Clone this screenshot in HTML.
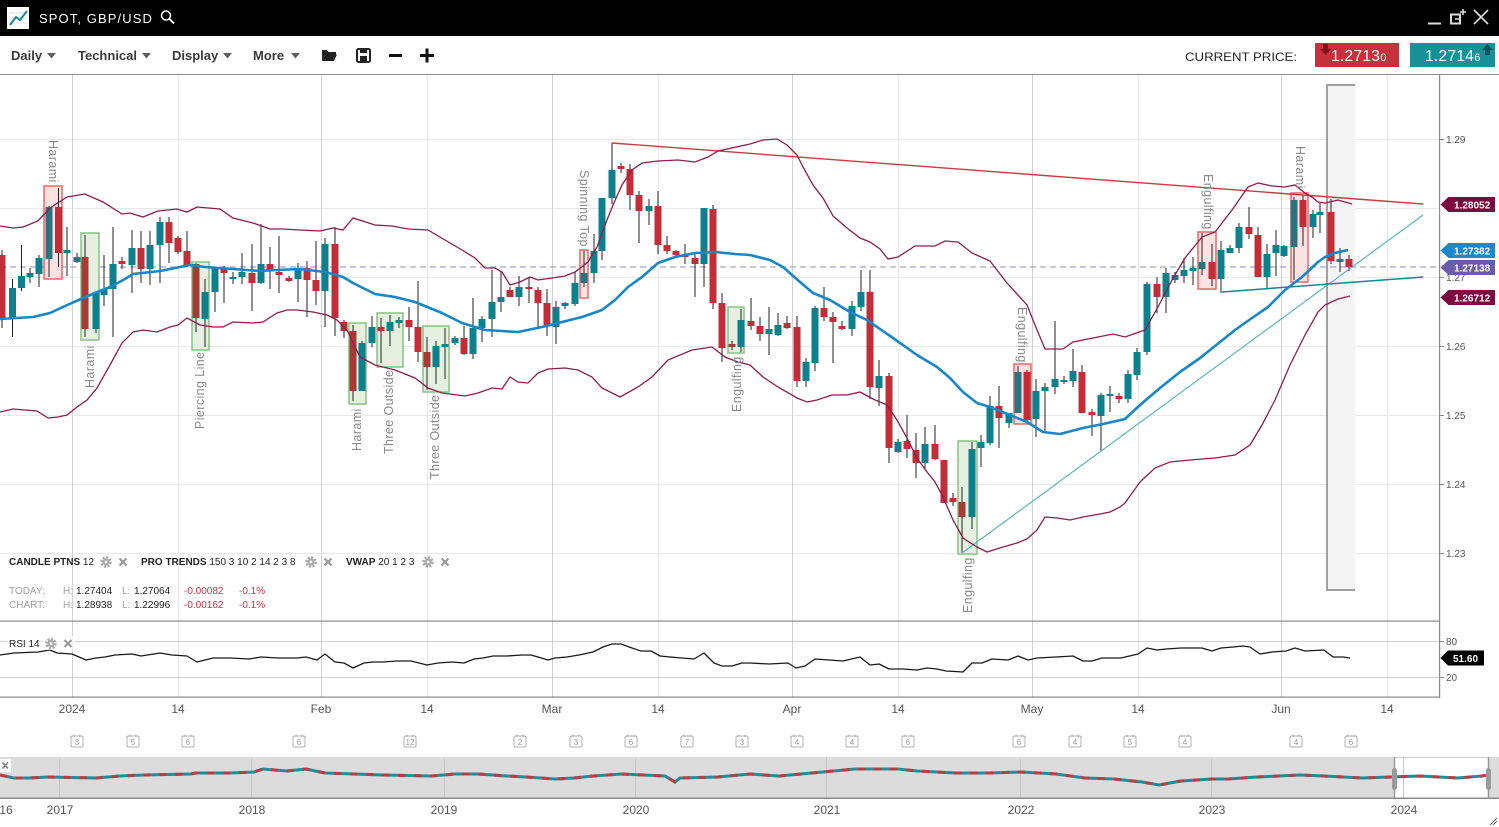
<!DOCTYPE html>
<html><head><meta charset="utf-8"><style>
html,body{margin:0;padding:0;background:#fff;}
svg{display:block;font-family:"Liberation Sans",sans-serif;}
</style></head><body>
<svg width="1499" height="827" viewBox="0 0 1499 827" xmlns="http://www.w3.org/2000/svg">
<defs>
<g id="gear"><circle r="4.6" fill="none" stroke="#a9a9a9" stroke-width="2.4" stroke-dasharray="2.1 1.5"/><circle r="3.6" fill="#a9a9a9"/><circle r="1.4" fill="#fff"/></g>
<g id="xx"><path d="M-3.5 -3.5L3.5 3.5M3.5 -3.5L-3.5 3.5" stroke="#9a9a9a" stroke-width="2.2"/></g>
<g id="cal"><rect x="-6" y="-5" width="12" height="11" rx="1.5" fill="#fff" stroke="#b0b0b0" stroke-width="1"/><path d="M-3 -6.5V-4M3 -6.5V-4" stroke="#b0b0b0" stroke-width="1"/></g>
<clipPath id="mc"><rect x="0" y="75" width="1439" height="546"/></clipPath>
<clipPath id="rc"><rect x="0" y="621" width="1439" height="76"/></clipPath>
</defs>
<rect width="1499" height="827" fill="#fff"/>
<!-- top bar -->
<rect x="0" y="0" width="1499" height="36" fill="#000"/>
<rect x="7" y="7" width="22" height="22" fill="#fff"/>
<path d="M9 13H27M9 18H27M9 23H27" stroke="#ddd" stroke-width="1"/>
<polyline points="10,25 16,17 20,20 27,11" fill="none" stroke="#1a8a96" stroke-width="2"/>
<text x="39" y="23" fill="#fff" font-size="13" letter-spacing="1.1">SPOT, GBP/USD</text>
<circle cx="166" cy="15.5" r="4.5" fill="none" stroke="#fff" stroke-width="1.5"/>
<path d="M169.3 18.8L174 23.5" stroke="#fff" stroke-width="1.8"/>
<path d="M1428 23.5H1441" stroke="#ddd" stroke-width="2"/>
<rect x="1451" y="14.5" width="9" height="9" fill="none" stroke="#ddd" stroke-width="2"/>
<path d="M1455 19H1460M1463 9V15M1460 12H1466" stroke="#ddd" stroke-width="1.6"/>
<path d="M1474 10L1488 24M1488 10L1474 24" stroke="#ddd" stroke-width="1.6"/>
<!-- toolbar -->
<g font-size="13" font-weight="bold" fill="#3a3a3a">
<text x="11" y="60">Daily</text>
<text x="78" y="60">Technical</text>
<text x="172" y="60">Display</text>
<text x="253" y="60">More</text>
</g>
<g fill="#606060">
<polygon points="47,53 56,53 51.5,58.5"/>
<polygon points="142,53 151,53 146.5,58.5"/>
<polygon points="223,53 232,53 227.5,58.5"/>
<polygon points="291,53 300,53 295.5,58.5"/>
</g>
<path d="M322 50h5l1.5 2H336v2.5h-11l-3 6.5z" fill="#222"/>
<path d="M322 61l3-6.5h12l-3 6.5z" fill="#222"/>
<rect x="357" y="49" width="13" height="13" rx="1.5" fill="none" stroke="#222" stroke-width="2"/>
<rect x="360" y="49" width="7" height="4" fill="#222"/>
<rect x="360" y="56" width="7" height="6" fill="#222"/>
<rect x="389" y="54" width="13" height="3" fill="#111"/>
<rect x="420" y="54" width="14" height="3" fill="#111"/>
<rect x="425.5" y="48.5" width="3" height="14" fill="#111"/>
<text x="1185" y="61" font-size="12" fill="#222" textLength="112" lengthAdjust="spacingAndGlyphs">CURRENT PRICE:</text>
<rect x="1315" y="43" width="84" height="24" fill="#c8313b"/>
<polygon points="1323,44 1328,44 1328,49 1331,49 1325.5,55 1320,49 1323,49" fill="#7a1418"/>
<text x="1331" y="61" font-size="15.5" fill="#fff" letter-spacing="0.3">1.2713<tspan font-size="11">0</tspan></text>
<rect x="1410" y="43" width="85" height="24" fill="#17909a"/>
<polygon points="1487.5,44 1493,50 1490,50 1490,55 1485,55 1485,50 1482,50" fill="#0a4f5a"/>
<text x="1425" y="61" font-size="15.5" fill="#fff" letter-spacing="0.3">1.2714<tspan font-size="11">6</tspan></text>
<rect x="0" y="74" width="1499" height="1" fill="#8c8c8c"/>

<!-- grid -->
<g stroke="#e8e8e8" stroke-width="1">
<path d="M0 139.5H1439M0 208.5H1439M0 277.5H1439M0 346.5H1439M0 415.5H1439M0 484.5H1439M0 553.5H1439"/>
<path d="M178.5 75V697M427.5 75V697M658.5 75V697M898.5 75V697M1138.5 75V697M1387.5 75V697"/>
</g>
<g stroke="#d2d2d2" stroke-width="1">
<path d="M72.5 75V697M321.5 75V697M552.5 75V697M792.5 75V697M1032.5 75V697M1281.5 75V697"/>
</g>

<g clip-path="url(#mc)">
<!-- selection band -->
<rect x="1327" y="85" width="28" height="505" fill="#f4f4f4"/>
<path d="M1355 85H1327V590H1355" fill="none" stroke="#a0a0a0" stroke-width="2"/>
<!-- dashed current price -->
<path d="M0 267H1439" stroke="#b2b2d6" stroke-width="1.5" stroke-dasharray="6 4"/>
<!-- pattern boxes -->
<g fill="#fde2e2" stroke="#f26464" stroke-width="1.5">
<rect x="44" y="186" width="18" height="93"/>
<rect x="580" y="250" width="8" height="48"/>
<rect x="1014" y="364" width="17" height="60"/>
<rect x="1198" y="232" width="18" height="57"/>
<rect x="1291" y="193" width="17" height="89"/>
</g>
<g fill="#e6f0e1" stroke="#86c283" stroke-width="1.5">
<rect x="81" y="233" width="18" height="107"/>
<rect x="192" y="262" width="17" height="88"/>
<rect x="349" y="323" width="17" height="81"/>
<rect x="377" y="313" width="26" height="54"/>
<rect x="423" y="326" width="26" height="66"/>
<rect x="728" y="307" width="16" height="46"/>
<rect x="958" y="441" width="19" height="113"/>
</g>
<!-- wicks -->
<path stroke="#222" stroke-width="1" fill="none" d="M2 250V328M12.5 279V337M21.5 245V291M30 268V283M39 255V287M49 206V277M58.5 188V267M67 227V276M77 253V263M85 235V337M96 292V333M104 255V306M113 227V337M122 257V269M132 230V293M141 231V283M150 231V285M160 217V283M169 217V263M178 236V254M187 231V267M196 263V332M205 279V347M215 267V312M224 266V303M233 272V284M242 253V284M252 244V311M261 224V284M270 247V289M279 236V293M289 276V282M298 263V302M307 261V317M316 241V305M325 238V327M335 227V336M344 320V338M353 325V401M362 341V391M372 316V347M381 318V363M390 315V346M399 317V328M409 307V341M418 281V362M427 337V390M436 341V384M445 328V379M455 336V345M464 326V355M473 298V359M482 316V342M492 270V337M501 272V312M510 287V297M519 276V306M529 278V303M538 287V327M547 289V336M556 301V344M565 302V309M575 272V306M584 251V287M594 234V283M602 198V260M612 143V204M621 163V173M630 164V210M639 191V243M649 199V225M658 191V254M667 236V254M676 250V256M685 244V264M695 253V297M704 208V287M713 205V309M722 293V362M732 341V350M741 309V352M751 298V330M760 317V341M769 307V355M778 313V336M787 316V329M797 316V387M806 358V387M815 306V371M824 287V321M833 312V363M842 321V330M852 301V336M861 270V311M870 270V399M879 360V406M889 373V463M898 439V453M907 415V458M916 433V478M925 427V470M935 425V460M944 460V503M953 493V506M962 487V553M972 442V529M981 435V467M990 396V445M999 386V448M1009 413V428M1018 366V413M1027 370V422M1036 379V437M1045 383V433M1055 321V394M1064 376V384M1073 349V387M1082 365V413M1092 409V436M1101 393V451M1110 386V412M1119 393V403M1128 370V403M1137 348V380M1147 282V355M1157 277V313M1166 268V313M1175 272V283M1184 258V283M1193 257V285M1202 233V275M1212 244V286M1221 241V293M1230 245V253M1239 223V253M1249 207V239M1258 227V277M1267 244V288M1276 230V276M1284 245V257M1294 197V280M1303 195V246M1313 210V238M1320 203V233M1331 199V264M1340 248V272M1349 255V271"/>
<!-- teal bodies -->
<g fill="#0c808c">
<rect x="9" y="288" width="7" height="30"/><rect x="18" y="276" width="7" height="12"/><rect x="26.5" y="273" width="7" height="4"/><rect x="35.5" y="258" width="7" height="16"/><rect x="63.5" y="250" width="7" height="3"/><rect x="73.5" y="257" width="7" height="5"/><rect x="92.5" y="293" width="7" height="36"/><rect x="100.5" y="289" width="7" height="6"/><rect x="109.5" y="264" width="7" height="25"/><rect x="128.5" y="248" width="7" height="17"/><rect x="146.5" y="245" width="7" height="24"/><rect x="156.5" y="222" width="7" height="23"/><rect x="201.5" y="292" width="7" height="27"/><rect x="211.5" y="267" width="7" height="25"/><rect x="229.5" y="277" width="7" height="2"/><rect x="238.5" y="272" width="7" height="5"/><rect x="257.5" y="264" width="7" height="19"/><rect x="294.5" y="268" width="7" height="11"/><rect x="321.5" y="244" width="7" height="47"/><rect x="358.5" y="343" width="7" height="48"/><rect x="368.5" y="327" width="7" height="16"/><rect x="386.5" y="322" width="7" height="9"/><rect x="395.5" y="320" width="7" height="3"/><rect x="432.5" y="346" width="7" height="21"/><rect x="441.5" y="344" width="7" height="3"/><rect x="451.5" y="338" width="7" height="5"/><rect x="469.5" y="328" width="7" height="26"/><rect x="478.5" y="319" width="7" height="9"/><rect x="488.5" y="302" width="7" height="17"/><rect x="497.5" y="297" width="7" height="5"/><rect x="515.5" y="287" width="7" height="10"/><rect x="552.5" y="307" width="7" height="20"/><rect x="561.5" y="303" width="7" height="3"/><rect x="571.5" y="283" width="7" height="21"/><rect x="590.5" y="251" width="7" height="22"/><rect x="598.5" y="198" width="7" height="53"/><rect x="608.5" y="170" width="7" height="28"/><rect x="645.5" y="206" width="7" height="5"/><rect x="700.5" y="208" width="7" height="56"/><rect x="737.5" y="320" width="7" height="27"/><rect x="765.5" y="329" width="7" height="5"/><rect x="774.5" y="325" width="7" height="10"/><rect x="802.5" y="362" width="7" height="19"/><rect x="811.5" y="308" width="7" height="55"/><rect x="848.5" y="306" width="7" height="23"/><rect x="857.5" y="292" width="7" height="15"/><rect x="875.5" y="376" width="7" height="12"/><rect x="894.5" y="442" width="7" height="10"/><rect x="921.5" y="444" width="7" height="19"/><rect x="968.5" y="449" width="7" height="68"/><rect x="977.5" y="442" width="7" height="6"/><rect x="986.5" y="406" width="7" height="37"/><rect x="1005.5" y="413" width="7" height="10"/><rect x="1032.5" y="391" width="7" height="28"/><rect x="1041.5" y="387" width="7" height="4"/><rect x="1051.5" y="379" width="7" height="8"/><rect x="1060.5" y="380" width="7" height="2"/><rect x="1069.5" y="371" width="7" height="10"/><rect x="1097.5" y="395" width="7" height="21"/><rect x="1106.5" y="394" width="7" height="2"/><rect x="1124.5" y="374" width="7" height="25"/><rect x="1133.5" y="352" width="7" height="23"/><rect x="1143.5" y="284" width="7" height="68"/><rect x="1162.5" y="273" width="7" height="24"/><rect x="1171.5" y="275" width="7" height="5"/><rect x="1180.5" y="270" width="7" height="6"/><rect x="1189.5" y="268" width="7" height="3"/><rect x="1217.5" y="250" width="7" height="29"/><rect x="1226.5" y="248" width="7" height="5"/><rect x="1235.5" y="227" width="7" height="21"/><rect x="1263.5" y="254" width="7" height="23"/><rect x="1272.5" y="245" width="7" height="8"/><rect x="1280.5" y="246" width="7" height="10"/><rect x="1309.5" y="214" width="7" height="13"/><rect x="1316.5" y="212" width="7" height="3"/><rect x="1336.5" y="259" width="7" height="3"/>
</g>
<g fill="#2a7480">
<rect x="45.5" y="207" width="7" height="52"/><rect x="580.5" y="273" width="7" height="10"/><rect x="1014.5" y="372" width="7" height="41"/><rect x="1198.5" y="262" width="7" height="7"/><rect x="1290.5" y="200" width="7" height="47"/>
</g>
<!-- red bodies -->
<g fill="#c22d38">
<rect x="-1.5" y="255" width="7" height="63"/><rect x="55" y="207" width="7" height="46"/><rect x="118.5" y="261" width="7" height="3"/><rect x="137.5" y="248" width="7" height="21"/><rect x="165.5" y="222" width="7" height="21"/><rect x="174.5" y="238" width="7" height="14"/><rect x="183.5" y="251" width="7" height="14"/><rect x="220.5" y="269" width="7" height="4"/><rect x="248.5" y="273" width="7" height="10"/><rect x="266.5" y="264" width="7" height="7"/><rect x="275.5" y="272" width="7" height="3"/><rect x="285.5" y="278" width="7" height="3"/><rect x="303.5" y="268" width="7" height="12"/><rect x="312.5" y="280" width="7" height="11"/><rect x="331.5" y="244" width="7" height="74"/><rect x="340.5" y="322" width="7" height="9"/><rect x="377.5" y="327" width="7" height="4"/><rect x="405.5" y="320" width="7" height="7"/><rect x="414.5" y="327" width="7" height="25"/><rect x="460.5" y="338" width="7" height="16"/><rect x="506.5" y="290" width="7" height="7"/><rect x="525.5" y="287" width="7" height="2"/><rect x="534.5" y="290" width="7" height="13"/><rect x="543.5" y="303" width="7" height="23"/><rect x="617.5" y="166" width="7" height="3"/><rect x="626.5" y="169" width="7" height="26"/><rect x="635.5" y="195" width="7" height="16"/><rect x="654.5" y="206" width="7" height="39"/><rect x="663.5" y="245" width="7" height="6"/><rect x="672.5" y="251" width="7" height="4"/><rect x="681.5" y="255" width="7" height="2"/><rect x="691.5" y="258" width="7" height="6"/><rect x="709.5" y="209" width="7" height="94"/><rect x="718.5" y="303" width="7" height="45"/><rect x="747.5" y="321" width="7" height="5"/><rect x="756.5" y="326" width="7" height="8"/><rect x="783.5" y="323" width="7" height="5"/><rect x="793.5" y="327" width="7" height="54"/><rect x="820.5" y="308" width="7" height="9"/><rect x="829.5" y="317" width="7" height="5"/><rect x="838.5" y="326" width="7" height="3"/><rect x="866.5" y="292" width="7" height="95"/><rect x="885.5" y="376" width="7" height="72"/><rect x="903.5" y="441" width="7" height="8"/><rect x="912.5" y="450" width="7" height="13"/><rect x="931.5" y="444" width="7" height="15"/><rect x="940.5" y="460" width="7" height="43"/><rect x="949.5" y="498" width="7" height="4"/><rect x="995.5" y="406" width="7" height="12"/><rect x="1023.5" y="372" width="7" height="48"/><rect x="1078.5" y="372" width="7" height="41"/><rect x="1088.5" y="412" width="7" height="3"/><rect x="1115.5" y="396" width="7" height="3"/><rect x="1153.5" y="284" width="7" height="13"/><rect x="1208.5" y="262" width="7" height="17"/><rect x="1245.5" y="227" width="7" height="7"/><rect x="1254.5" y="235" width="7" height="42"/><rect x="1299.5" y="200" width="7" height="27"/><rect x="1327.5" y="212" width="7" height="49"/><rect x="1345.5" y="259" width="7" height="8"/>
</g>
<g fill="#a83a35">
<rect x="81.5" y="257" width="7" height="72"/><rect x="192.5" y="264" width="7" height="54"/><rect x="349.5" y="331" width="7" height="60"/><rect x="423.5" y="352" width="7" height="15"/><rect x="728.5" y="344" width="7" height="3"/><rect x="958.5" y="502" width="7" height="15"/>
</g>
<!-- trend lines -->
<line x1="612" y1="143" x2="1423" y2="204" stroke="#cc3a42" stroke-width="1.4"/>
<line x1="962" y1="553" x2="1423" y2="215" stroke="#4fb3bb" stroke-width="1.1"/>
<line x1="1222" y1="292" x2="1423" y2="277" stroke="#0f8792" stroke-width="1.5"/>
<!-- bollinger -->
<polyline fill="none" stroke="#8e1c4e" stroke-width="1.3" points="0,226 13,228 23,227 38,221 50,208 67,197 85,194 103,202 122,214 130,213 143,217 158,211 177,209 187,212 197,207 220,209 233,218 253,223 270,229 283,229 300,230 320,231 333,228 343,230 353,218 375,225 392,226 408,229 428,230 445,240 462,250 475,258 485,268 495,268 502,272 510,285 520,282 530,277 538,280 552,278 565,276 575,272 588,262 597,247 605,225 613,205 622,185 632,170 642,163 658,161 678,160 695,162 708,157 718,151 750,144 763,140 777,139 787,145 797,155 803,167 813,185 823,198 833,216 847,228 860,238 870,242 880,249 888,259 898,257 915,246 935,246 945,241 958,242 972,253 990,261 1007,283 1027,305 1035,325 1045,349 1063,349 1073,342 1093,338 1113,334 1125,337 1145,330 1158,307 1172,280 1185,258 1202,237 1215,232 1232,210 1248,187 1258,183 1272,186 1285,187 1295,185 1305,193 1312,197 1318,202 1325,203 1338,200 1352,204"/>
<polyline fill="none" stroke="#8e1c4e" stroke-width="1.3" points="0,412 13,409 37,411 48,418 58,417 67,415 77,407 87,400 97,388 110,365 122,343 133,332 143,330 157,332 170,327 178,325 187,318 200,325 213,327 223,327 233,322 253,323 263,322 277,313 287,310 297,310 313,312 327,315 337,320 347,330 360,357 375,365 395,370 415,378 428,388 442,393 465,396 478,393 492,388 502,389 510,377 518,382 528,383 538,373 548,369 565,368 578,370 592,377 602,388 620,397 638,387 652,377 668,360 692,350 712,347 725,357 738,362 750,365 763,377 778,387 797,398 807,402 817,400 832,395 847,395 860,392 873,399 887,405 897,420 907,438 917,458 927,472 935,482 943,497 953,520 963,538 977,547 987,552 1003,547 1017,543 1027,539 1037,530 1045,517 1057,518 1070,520 1083,517 1100,514 1110,512 1120,507 1125,503 1140,482 1155,468 1170,462 1190,460 1215,458 1235,455 1250,445 1262,425 1275,400 1290,365 1305,335 1318,312 1325,305 1338,299 1350,296"/>
<!-- MA -->
<polyline fill="none" stroke="#1787c9" stroke-width="2.6" stroke-linejoin="round" points="0,319 33,317 50,313 65,306 83,298 95,293 110,287 125,279 133,274 160,271 190,265 205,267 233,269 260,271 277,270 300,269 325,272 343,277 353,283 365,289 375,294 395,297 415,302 442,313 462,323 485,330 518,332 542,327 562,322 582,317 602,310 615,300 628,287 642,277 658,263 675,257 695,253 715,252 735,254 750,255 770,260 783,267 800,282 813,293 830,300 850,312 867,320 893,338 917,355 937,367 950,378 963,392 977,403 990,407 1010,415 1027,422 1043,432 1060,434 1083,428 1103,424 1125,419 1140,405 1160,388 1180,372 1200,358 1220,342 1235,330 1252,318 1268,307 1285,290 1302,277 1318,262 1325,257 1335,253 1348,250"/>
</g>

<!-- pattern labels -->
<g font-size="12.5" fill="#8a8a8a" dominant-baseline="central" letter-spacing="0.4">
<text transform="translate(53,140) rotate(90)">Harami</text>
<text transform="translate(584,170) rotate(90)">Spinning Top</text>
<text transform="translate(1022,307) rotate(90)">Engulfing</text>
<text transform="translate(1208,174) rotate(90)">Engulfing</text>
<text transform="translate(1300,146) rotate(90)">Harami</text>
<text transform="translate(90,388) rotate(-90)">Harami</text>
<text transform="translate(200,429) rotate(-90)">Piercing Line</text>
<text transform="translate(357,451) rotate(-90)">Harami</text>
<text transform="translate(389,454) rotate(-90)">Three Outside</text>
<text transform="translate(435,479) rotate(-90)">Three Outside</text>
<text transform="translate(737,412) rotate(-90)">Engulfing</text>
<text transform="translate(968,613) rotate(-90)">Engulfing</text>
</g>

<!-- legend -->
<g font-size="10" fill="#222">
<text x="9" y="565"><tspan font-weight="bold">CANDLE PTNS</tspan> 12</text>
<text x="141" y="565"><tspan font-weight="bold">PRO TRENDS</tspan> 150 3 10 2 14 2 3 8</text>
<text x="346" y="565"><tspan font-weight="bold">VWAP</tspan> 20 1 2 3</text>
</g>
<use href="#gear" x="106" y="562"/><use href="#xx" x="123" y="562"/>
<use href="#gear" x="311" y="562"/><use href="#xx" x="328" y="562"/>
<use href="#gear" x="428" y="562"/><use href="#xx" x="445" y="562"/>
<g font-size="10">
<text x="9" y="594" fill="#a0a0a0">TODAY:</text>
<text x="63" y="594" fill="#a0a0a0">H:</text><text x="76" y="594" fill="#222">1.27404</text>
<text x="122" y="594" fill="#a0a0a0">L:</text><text x="134" y="594" fill="#222">1.27064</text>
<text x="184" y="594" fill="#d33040">-0.00082</text><text x="239" y="594" fill="#d33040">-0.1%</text>
<text x="9" y="608" fill="#a0a0a0">CHART:</text>
<text x="63" y="608" fill="#a0a0a0">H:</text><text x="76" y="608" fill="#222">1.28938</text>
<text x="122" y="608" fill="#a0a0a0">L:</text><text x="134" y="608" fill="#222">1.22996</text>
<text x="184" y="608" fill="#d33040">-0.00162</text><text x="239" y="608" fill="#d33040">-0.1%</text>
</g>

<!-- pane borders -->
<rect x="0" y="620.5" width="1439" height="1.2" fill="#8a8a8a"/>
<rect x="0" y="696.5" width="1439" height="1.2" fill="#8a8a8a"/>
<rect x="1439" y="75" width="1.2" height="623" fill="#8a8a8a"/>

<!-- RSI -->
<path d="M0 641.5H1439M0 677.5H1439" stroke="#cfcfcf" stroke-width="1"/>
<polyline clip-path="url(#rc)" fill="none" stroke="#1a1a1a" stroke-width="1.3" stroke-linejoin="round" points="0,655 14,653 38,652 50,650 57,653 72,654 86,660 96,658 105,657 115,655 132,654 141,656 160,653 172,655 187,656 197,662 213,658 230,658 249,659 261,657 278,658 297,658 306,657 317,660 325,654 335,662 344,663 353,668 364,663 373,662 383,662 397,661 411,661 427,665 438,663 452,662 464,663 474,659 483,658 493,656 507,656 522,655 531,655 538,657 548,660 555,658 567,657 579,655 593,652 603,647 612,644 621,644 632,648 641,651 651,651 660,656 670,657 694,659 704,653 714,663 722,666 732,666 742,663 750,663 769,664 788,663 796,668 805,666 815,659 829,660 843,661 860,657 870,665 879,664 889,669 903,669 917,670 927,668 937,669 946,671 963,672 972,663 982,663 992,659 1008,660 1018,656 1028,660 1037,658 1056,657 1073,656 1083,661 1092,661 1102,658 1121,658 1138,654 1147,648 1157,650 1166,649 1181,648 1202,648 1212,651 1221,648 1233,647 1243,646 1250,647 1260,654 1272,652 1286,651 1295,648 1305,651 1324,650 1333,657 1343,657 1350,658"/>
<rect x="7" y="636" width="68" height="14" fill="#fff" opacity="0.7"/>
<text x="9" y="647" font-size="10" fill="#222">RSI 14</text>
<use href="#gear" x="51" y="643.5"/><use href="#xx" x="68" y="643.5"/>

<!-- right axis -->
<g stroke="#888" stroke-width="1"><path d="M1440 139.5h4M1440 277.5h4M1440 346.5h4M1440 415.5h4M1440 484.5h4M1440 553.5h4M1440 641.5h4M1440 677.5h4"/></g>
<g font-size="10" fill="#555">
<text x="1446" y="143">1.29</text>
<text x="1446" y="281">1.27</text>
<text x="1446" y="350">1.26</text>
<text x="1446" y="419">1.25</text>
<text x="1446" y="488">1.24</text>
<text x="1446" y="557">1.23</text>
<text x="1446" y="645">80</text>
<text x="1446" y="681">20</text>
</g>
<g font-size="10" font-weight="bold" fill="#fff">
<path d="M1440.5 204.5L1448.5 197H1495V212H1448.5Z" fill="#7b0a3e"/><text x="1454" y="208.5">1.28052</text>
<path d="M1440.5 250.5L1448.5 243H1495V258H1448.5Z" fill="#1a88cc"/><text x="1454" y="254.5">1.27382</text>
<path d="M1440.5 267.5L1448.5 260H1495V275H1448.5Z" fill="#6a5ca8"/><text x="1454" y="271.5">1.27138</text>
<path d="M1440.5 297.5L1448.5 290H1495V305H1448.5Z" fill="#7b0a3e"/><text x="1454" y="301.5">1.26712</text>
<path d="M1440.5 658L1448 650.5H1484V665.5H1448Z" fill="#000"/><text x="1453" y="662">51.60</text>
</g>

<!-- x axis -->
<g font-size="12" fill="#555" text-anchor="middle">
<text x="72" y="713">2024</text><text x="178" y="713">14</text><text x="321" y="713">Feb</text><text x="427" y="713">14</text><text x="552" y="713">Mar</text><text x="658" y="713">14</text><text x="792" y="713">Apr</text><text x="898" y="713">14</text><text x="1032" y="713">May</text><text x="1138" y="713">14</text><text x="1281" y="713">Jun</text><text x="1387" y="713">14</text>
</g>

<!-- calendar icons -->
<g font-size="8" fill="#999" text-anchor="middle">
<use href="#cal" x="77" y="741"/><text x="77" y="745">3</text>
<use href="#cal" x="133" y="741"/><text x="133" y="745">5</text>
<use href="#cal" x="188" y="741"/><text x="188" y="745">6</text>
<use href="#cal" x="299" y="741"/><text x="299" y="745">6</text>
<use href="#cal" x="410" y="741"/><text x="410" y="745">12</text>
<use href="#cal" x="520" y="741"/><text x="520" y="745">2</text>
<use href="#cal" x="576" y="741"/><text x="576" y="745">3</text>
<use href="#cal" x="631" y="741"/><text x="631" y="745">6</text>
<use href="#cal" x="687" y="741"/><text x="687" y="745">7</text>
<use href="#cal" x="742" y="741"/><text x="742" y="745">3</text>
<use href="#cal" x="797" y="741"/><text x="797" y="745">4</text>
<use href="#cal" x="852" y="741"/><text x="852" y="745">4</text>
<use href="#cal" x="908" y="741"/><text x="908" y="745">6</text>
<use href="#cal" x="1019" y="741"/><text x="1019" y="745">6</text>
<use href="#cal" x="1075" y="741"/><text x="1075" y="745">4</text>
<use href="#cal" x="1130" y="741"/><text x="1130" y="745">5</text>
<use href="#cal" x="1185" y="741"/><text x="1185" y="745">4</text>
<use href="#cal" x="1296" y="741"/><text x="1296" y="745">4</text>
<use href="#cal" x="1351" y="741"/><text x="1351" y="745">6</text>
</g>

<!-- navigator -->
<rect x="0" y="757" width="1499" height="41" fill="#dcdcdc"/>
<rect x="1394" y="757" width="94" height="41" fill="#fff"/>
<path d="M59.5 757V798M251.5 757V798M444.5 757V798M635.5 757V798M826.5 757V798M1020.5 757V798M1211.5 757V798M1403.5 757V798" stroke="#c8c8c8" stroke-width="1"/>
<path d="M1394 757.5H1488" stroke="#ccc" stroke-width="1"/>
<polyline fill="none" stroke="#1f8d96" stroke-width="3" points="0,775 14,778 29,778 48,777 96,778 120,776 144,775 191,774 196,773 230,773 254,772 263,769 287,771 306,769 325,773 354,774 383,775 431,776 455,774 478,774 507,776 526,777 555,779 574,778 593,776 622,774 665,776 675,782 680,778 718,777 750,774 779,776 812,773 855,769 898,769 917,771 956,773 989,773 1021,772 1056,774 1085,778 1114,779 1142,782 1159,785 1181,781 1212,779 1228,779 1257,777 1300,775 1324,776 1362,778 1391,777 1420,776 1458,778 1482,776 1488,775"/>
<polyline fill="none" stroke="#c03a44" stroke-width="3" stroke-dasharray="7 9" points="0,775 14,778 29,778 48,777 96,778 120,776 144,775 191,774 196,773 230,773 254,772 263,769 287,771 306,769 325,773 354,774 383,775 431,776 455,774 478,774 507,776 526,777 555,779 574,778 593,776 622,774 665,776 675,782 680,778 718,777 750,774 779,776 812,773 855,769 898,769 917,771 956,773 989,773 1021,772 1056,774 1085,778 1114,779 1142,782 1159,785 1181,781 1212,779 1228,779 1257,777 1300,775 1324,776 1362,778 1391,777 1420,776 1458,778 1482,776 1488,775"/>
<path d="M1394.5 757V798M1488.5 757V798" stroke="#9a9a9a" stroke-width="1.5"/>
<rect x="1392" y="768" width="5" height="22" rx="2.5" fill="#9a9a9a"/>
<rect x="1486" y="768" width="5" height="22" rx="2.5" fill="#9a9a9a"/>
<rect x="0" y="797.5" width="1499" height="1.5" fill="#8a8a8a"/>
<rect x="0" y="759" width="11" height="13" fill="#fff"/>
<path d="M2.5 762.5L8 768.5M8 762.5L2.5 768.5" stroke="#8a8a8a" stroke-width="1.8"/>
<g font-size="12" fill="#555" text-anchor="middle">
<text x="6" y="814">16</text><text x="60" y="814">2017</text><text x="252" y="814">2018</text><text x="444" y="814">2019</text><text x="636" y="814">2020</text><text x="827" y="814">2021</text><text x="1021" y="814">2022</text><text x="1212" y="814">2023</text><text x="1404" y="814">2024</text>
</g>
<path d="M1490 825L1497 818M1493 825L1497 821" stroke="#666" stroke-width="1"/>
</svg>
</body></html>
